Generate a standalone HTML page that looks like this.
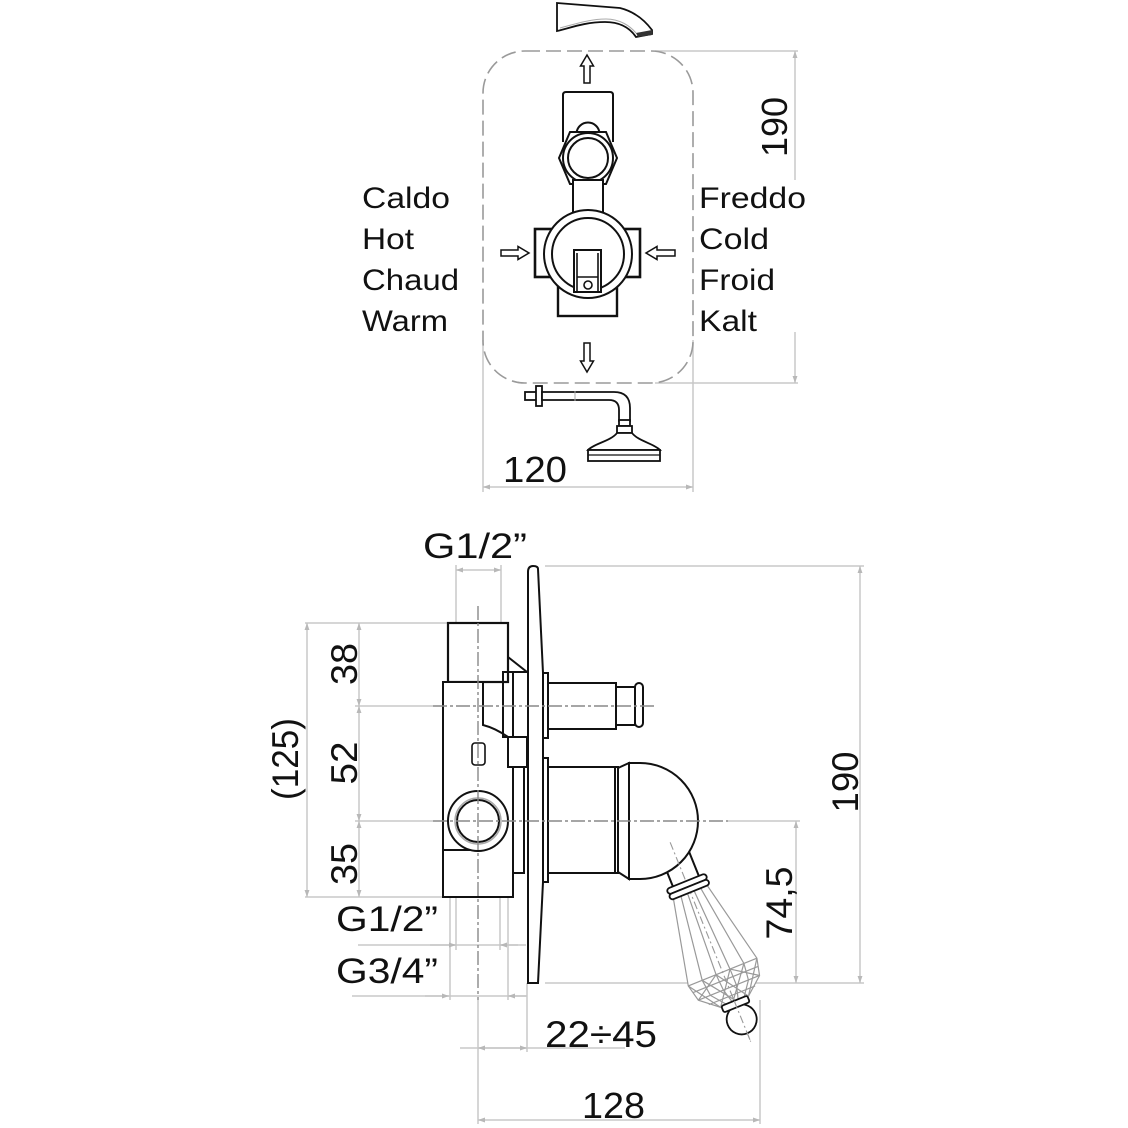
<!DOCTYPE html>
<html><head><meta charset="utf-8">
<style>html,body{margin:0;padding:0;background:#fff}svg{display:block}
text{font-family:"Liberation Sans",Arial,sans-serif;fill:#111}</style></head>
<body>
<svg width="1128" height="1128" viewBox="0 0 1128 1128" xmlns="http://www.w3.org/2000/svg">
<defs>
<marker id="ar" viewBox="0 0 10 10" refX="10" refY="5" markerWidth="7" markerHeight="7" markerUnits="userSpaceOnUse" orient="auto-start-reverse"><path d="M0,1.5 L10,5 L0,8.5 Z" fill="#b8b8b8"/></marker>
</defs>
<rect width="1128" height="1128" fill="#fff"/>

<!-- ============ TOP VIEW ============ -->
<g fill="none" stroke="#c8c8c8" stroke-width="1.5">
  <path d="M655,51 H798"/>
  <path d="M655,383 H798"/>
  <path d="M795,51 V180" marker-start="url(#ar)"/>
  <path d="M795,332 V383" marker-end="url(#ar)"/>
  <path d="M483,340 V492"/>
  <path d="M693,340 V492"/>
  <path d="M483,487 H693" marker-start="url(#ar)" marker-end="url(#ar)"/>
</g>
<rect x="483" y="51" width="210" height="332" rx="42" fill="none" stroke="#9a9a9a" stroke-width="1.6" stroke-dasharray="15 6"/>

<!-- spout -->
<path d="M557,3 L620,8 C636,12 646,22 652,30 L652,34 L636,37 C630,28 620,22 605,22 C585,22 570,28 557,31 Z" fill="#fff" stroke="#111" stroke-width="1.8"/>
<path d="M560,28 C575,24 590,19 606,19 C620,19 630,26 636,33" fill="none" stroke="#aaa" stroke-width="1"/>
<polygon points="636,33 652,30 652,35 638,37" fill="#333"/>

<!-- arrows -->
<g fill="#fff" stroke="#111" stroke-width="1.5">
  <path d="M587,55 L593.5,66 L590,66 L590,83 L584,83 L584,66 L580.5,66 Z"/>
  <path d="M584,343 L590,343 L590,361 L593.5,361 L587,372 L580.5,361 L584,361 Z"/>
  <path d="M501,250 L518,250 L518,246.5 L529,253 L518,259.5 L518,256 L501,256 Z"/>
  <path d="M675,250 L657,250 L657,246.5 L646,253 L657,259.5 L657,256 L675,256 Z"/>
</g>

<!-- valve top view -->
<g fill="#fff" stroke="#111" stroke-width="2">
  <path d="M563,142 V95 Q563,92 566,92 H610 Q613,92 613,95 V142"/>
  <path d="M576.5,134 A11.5,11.5 0 0 1 599.5,134 Z"/>
  <polygon points="570,132 606,132 617,158 606,184 570,184 559,158"/>
  <circle cx="588" cy="158" r="25"/>
  <circle cx="588" cy="158" r="20"/>
  <rect x="573" y="180" width="30" height="40"/>
  <rect x="535" y="229" width="105" height="48" stroke-width="2.6"/>
  <rect x="558" y="280" width="59" height="36" stroke-width="2.4"/>
  <circle cx="588" cy="254" r="44"/>
  <circle cx="588" cy="254" r="36"/>
  <rect x="574" y="250" width="27" height="42"/>
  <path d="M577,253 V292 M598,253 V292 M577,277 H598" stroke-width="1.6"/>
  <circle cx="588" cy="285" r="4" stroke-width="1.6"/>
</g>

<!-- shower head -->
<g fill="#fff" stroke="#111" stroke-width="1.8">
  <rect x="525" y="392" width="12" height="8"/>
  <rect x="536" y="386" width="6" height="20"/>
  <path d="M542,392 H614 Q630,392 630,408 V421 H619 V410 Q619,400 609,400 H542 Z"/>
  <rect x="619" y="420" width="11" height="6"/>
  <rect x="617" y="426" width="15" height="7"/>
  <path d="M617,433 H632 C638,441 655,444 660,450 H588 C593,444 611,441 617,433 Z"/>
  <rect x="588" y="450" width="72" height="11"/>
  <path d="M588,455 H660" stroke-width="1.2"/>
</g>
<path d="M575,391 V401" stroke="#aaa" stroke-width="1"/>

<!-- top labels -->
<text x="362" y="208" font-size="30" textLength="88" lengthAdjust="spacingAndGlyphs">Caldo</text>
<text x="362" y="249" font-size="30" textLength="52" lengthAdjust="spacingAndGlyphs">Hot</text>
<text x="362" y="290" font-size="30" textLength="97" lengthAdjust="spacingAndGlyphs">Chaud</text>
<text x="362" y="331" font-size="30" textLength="86" lengthAdjust="spacingAndGlyphs">Warm</text>
<text x="699" y="208" font-size="30" textLength="107" lengthAdjust="spacingAndGlyphs">Freddo</text>
<text x="699" y="249" font-size="30" textLength="70" lengthAdjust="spacingAndGlyphs">Cold</text>
<text x="699" y="290" font-size="30" textLength="76" lengthAdjust="spacingAndGlyphs">Froid</text>
<text x="699" y="331" font-size="30" textLength="58" lengthAdjust="spacingAndGlyphs">Kalt</text>
<text x="503" y="482" font-size="36" textLength="64" lengthAdjust="spacingAndGlyphs">120</text>
<text transform="translate(787,127) rotate(-90)" x="0" y="0" font-size="36" text-anchor="middle" textLength="60" lengthAdjust="spacingAndGlyphs">190</text>

<!-- ============ SIDE VIEW ============ -->
<g fill="none" stroke="#c8c8c8" stroke-width="1.5">
  <path d="M305,623 H448"/>
  <path d="M305,897 H443"/>
  <path d="M355,706 H433"/>
  <path d="M355,821 H433"/>
  <path d="M728,821 H800"/>
  <path d="M307,623 V897" marker-start="url(#ar)" marker-end="url(#ar)"/>
  <path d="M359,623 V706" marker-start="url(#ar)" marker-end="url(#ar)"/>
  <path d="M359,706 V821" marker-start="url(#ar)" marker-end="url(#ar)"/>
  <path d="M359,821 V897" marker-start="url(#ar)" marker-end="url(#ar)"/>
  <path d="M456,565 V623 M501,565 V623"/>
  <path d="M456,570 H501" marker-start="url(#ar)" marker-end="url(#ar)"/>
  <path d="M545,566 H864 M545,983 H864"/>
  <path d="M860,566 V983" marker-start="url(#ar)" marker-end="url(#ar)"/>
  <path d="M796,821 V983" marker-start="url(#ar)" marker-end="url(#ar)"/>
  <path d="M450,897 V1000 M508,897 V1000 M456,850 V950 M500,850 V950"/>
  <path d="M358,945 H518"/>
  <path d="M430,945 H456" marker-end="url(#ar)"/>
  <path d="M526,945 H500" marker-end="url(#ar)"/>
  <path d="M352,996 H527"/>
  <path d="M425,996 H449" marker-end="url(#ar)"/>
  <path d="M527,996 H508" marker-end="url(#ar)"/>
  <path d="M478,1000 V1124"/>
  <path d="M527,983 V1052"/>
  <path d="M460,1048 H625"/>
  <path d="M478,1048 H527" marker-start="url(#ar)" marker-end="url(#ar)"/>
  <path d="M760,1000 V1124"/>
  <path d="M478,1120 H760" marker-start="url(#ar)" marker-end="url(#ar)"/>
</g>

<!-- body -->
<g fill="#fff" stroke="#111" stroke-width="2">
  <rect x="448" y="623" width="60" height="59" stroke-width="2.2"/>
  <path d="M508,657 L527,672 H503" fill="none"/>
  <path d="M443,682 H483 V725 Q495,728 508,737 H513 V897 H443 Z"/>
  <rect x="503" y="672" width="10" height="65" fill="none"/>
  <path d="M513,672 H527" fill="none"/>
  <rect x="508" y="737" width="19" height="30"/>
  <rect x="513" y="767" width="11" height="106"/>
  <path d="M443,850 H470" fill="none"/>
  <circle cx="478" cy="821" r="30"/>
  <circle cx="478" cy="821" r="23" fill="none" stroke="#aaa" stroke-width="1.5"/>
  <circle cx="478" cy="821" r="21" fill="none"/>
  <rect x="472" y="743" width="13" height="22" rx="3" stroke-width="1.6"/>
</g>

<!-- plate -->
<path d="M528,983 L528,572 Q528,566 533,566 Q538,566 538,569 L543,673 L543,882 L538,983 Z" fill="#fff" stroke="#111" stroke-width="2"/>

<!-- spindles -->
<g fill="#fff" stroke="#111" stroke-width="2">
  <rect x="543" y="673" width="5" height="65"/>
  <rect x="548" y="683" width="68" height="46"/>
  <rect x="616" y="687" width="19" height="38"/>
  <rect x="635" y="683" width="8" height="44" rx="4"/>
  <rect x="543" y="758" width="5" height="124"/>
  <rect x="548" y="767" width="67" height="106"/>
  <rect x="615" y="767" width="3" height="106"/>
  <polygon points="618,768 629,763 629,879 618,872"/>
</g>

<g transform="translate(687,884) rotate(-22)">
  <rect x="-14" y="-32" width="28" height="30" fill="#fff" stroke="#111" stroke-width="2"/>
</g>
<path d="M629,763 L640,763 A58,58 0 0 1 640,879 L629,879 Z" fill="#fff" stroke="#111" stroke-width="2"/>

<!-- centerlines -->
<g fill="none" stroke="#888" stroke-width="1.4" stroke-dasharray="14 3 3 3">
  <path d="M478,606 V1000"/>
  <path d="M433,706 H655"/>
  <path d="M433,821 H728"/>
</g>

<!-- crystal handle -->
<g transform="translate(687,884) rotate(-22)">
  <g fill="none" stroke="#999" stroke-width="1.2">
    <polygon points="-18,8 18,8 37,95 33,112 15,127 -15,127 -33,112 -37,95" fill="#fff"/>
    <path d="M-10,8 L-22,95 L-20,112 L-8,127"/>
    <path d="M-3,8 L-7,95 L-6,112 L-2,127"/>
    <path d="M4,8 L8,95 L8,112 L4,127"/>
    <path d="M11,8 L23,95 L21,112 L10,127"/>
    <path d="M-37,95 L37,95"/>
    <path d="M-33,112 L33,112"/>
    <path d="M-35,103 L35,103"/>
    <path d="M-25,120 L25,120"/>
    <path d="M-37,95 L-15,127 M-22,95 L2,127 M-7,95 L15,127 M8,95 L33,112"/>
    <path d="M37,95 L15,127 M23,95 L-2,127 M8,95 L-15,127 M-7,95 L-33,112"/>
  </g>
  <path d="M0,-45 V168" fill="none" stroke="#999" stroke-width="1.1" stroke-dasharray="8 3 2 3"/>
  <rect x="-21" y="-3" width="42" height="6" rx="3" fill="#fff" stroke="#111" stroke-width="1.8"/>
  <rect x="-21" y="3" width="42" height="6" rx="3" fill="#fff" stroke="#111" stroke-width="1.8"/>
  <circle cx="0" cy="146" r="15" fill="#fff" stroke="#111" stroke-width="1.8"/>
  <rect x="-14" y="126" width="28" height="7" rx="2" fill="#fff" stroke="#111" stroke-width="1.8"/>
  <path d="M0,126 V170" fill="none" stroke="#999" stroke-width="1.1" stroke-dasharray="8 3 2 3"/>
</g>

<!-- side view labels -->
<text x="423" y="558" font-size="35" textLength="104" lengthAdjust="spacingAndGlyphs">G1/2”</text>
<text x="336" y="931" font-size="35" textLength="102" lengthAdjust="spacingAndGlyphs">G1/2”</text>
<text x="336" y="983" font-size="35" textLength="102" lengthAdjust="spacingAndGlyphs">G3/4”</text>
<text x="545" y="1047" font-size="37" textLength="112" lengthAdjust="spacingAndGlyphs">22÷45</text>
<text x="582" y="1118" font-size="36" textLength="63" lengthAdjust="spacingAndGlyphs">128</text>
<text transform="translate(357,664) rotate(-90)" font-size="37" text-anchor="middle" textLength="42" lengthAdjust="spacingAndGlyphs">38</text>
<text transform="translate(357,763) rotate(-90)" font-size="37" text-anchor="middle" textLength="43" lengthAdjust="spacingAndGlyphs">52</text>
<text transform="translate(357,864) rotate(-90)" font-size="37" text-anchor="middle" textLength="42" lengthAdjust="spacingAndGlyphs">35</text>
<text transform="translate(298,759) rotate(-90)" font-size="37" text-anchor="middle" textLength="82" lengthAdjust="spacingAndGlyphs">(125)</text>
<text transform="translate(858,782) rotate(-90)" font-size="37" text-anchor="middle" textLength="61" lengthAdjust="spacingAndGlyphs">190</text>
<text transform="translate(792,903) rotate(-90)" font-size="37" text-anchor="middle" textLength="73" lengthAdjust="spacingAndGlyphs">74,5</text>
</svg>
</body></html>
